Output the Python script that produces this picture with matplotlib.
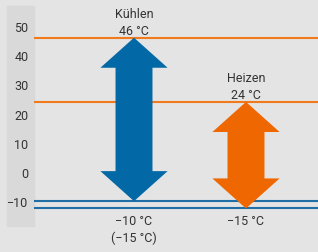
import matplotlib.pyplot as plt
from matplotlib.patches import Polygon, Rectangle

# temperature ranges (drawn positions) and their labels
modes = ["Kühlen", "Heizen"]
t_max = [46, 24]
t_min = [-10, -12.5]
max_labels = ["46 °C", "24 °C"]
min_labels = ["−10 °C\n(−15 °C)", "−15 °C"]
colors = ["#0369a6", "#ef6700"]
line_colors = ["#f07a1e", "#f07a1e", "#1f6ea6", "#1f6ea6"]

yticks = [50, 40, 30, 20, 10, 0, -10]
ytick_labels = ["50", "40", "30", "20", "10", "0", "−10"]

plt.rcParams['font.family'] = ['Roboto', 'DejaVu Sans']
txt = "#333333"

fig = plt.figure(figsize=(3.18, 2.53), dpi=100, facecolor="#e4e4e4")
# darker strip behind y labels
fig.patches.append(Rectangle((7/318, 1 - 227/253), 27/318, 220/253,
                             transform=fig.transFigure, color="#d8d9d8", zorder=-5))

ax = fig.add_axes([34/318, 0, 284/318, 1])
ax.set_zorder(1)
ax.set_facecolor("none")
ax.set_xlim(-0.893, 1.643)
ax.set_ylim(-27.4, 59.25)
for s in ax.spines.values():
    s.set_visible(False)
ax.set_xticks([])
ax.set_yticks(yticks)
ax.set_yticklabels(ytick_labels)
ax.tick_params(axis="y", length=0, pad=4, labelsize=9, labelcolor=txt)

# horizontal limit lines
levels = [t_max[0], t_max[1], t_min[0], t_min[1]]
for lv, c in zip(levels, line_colors):
    ax.axhline(lv, color=c, lw=1.5, zorder=1)

hw, sw, hl = 0.30, 0.165, 10.3
for i, (name, lo, hi) in enumerate(zip(modes, t_min, t_max)):
    c = i
    pts = [(c, hi), (c + hw, hi - hl), (c + sw, hi - hl), (c + sw, lo + hl),
           (c + hw, lo + hl), (c, lo), (c - hw, lo + hl), (c - sw, lo + hl),
           (c - sw, hi - hl), (c - hw, hi - hl)]
    ax.add_patch(Polygon(pts, closed=True, color=colors[i], lw=0, zorder=2))
    ax.text(c, hi + 8.4, name, ha="center", va="center", fontsize=9, color=txt)
    ax.text(c, hi + 2.6, max_labels[i], ha="center", va="center", fontsize=9, color=txt)
    ax.text(c, -14.4, min_labels[i], ha="center", va="top", fontsize=9, color=txt,
            linespacing=1.3)

fig.savefig("out.png", dpi=100, facecolor=fig.get_facecolor())
